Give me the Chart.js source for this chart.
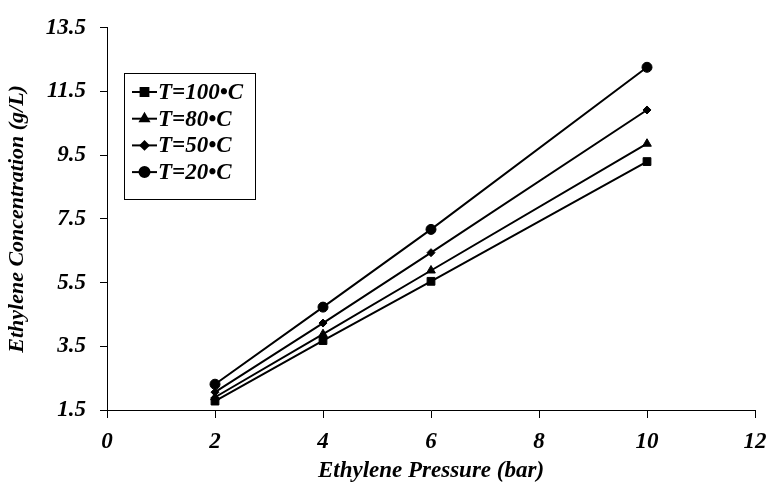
<!DOCTYPE html>
<html>
<head>
<meta charset="utf-8">
<script src="https://cdn.jsdelivr.net/npm/chart.js@4.4.1/dist/chart.umd.min.js"></script>
<style>
  html, body { margin: 0; padding: 0; background: #fff; }
</style>
</head>
<body>
<canvas id="solubilityChart" width="766" height="495"></canvas>
<script>
// Ethylene solubility vs pressure at four temperatures
const pressures = [2, 4, 6, 10];
const seriesLabels = ['T=100•C', 'T=80•C', 'T=50•C', 'T=20•C'];
const conc100 = [1.78, 3.68, 5.54, 9.30];
const conc80 = [1.90, 3.88, 5.88, 9.86];
const conc50 = [2.06, 4.23, 6.44, 10.92];
const conc20 = [2.31, 4.73, 7.17, 12.26];
const xTicks = [0, 2, 4, 6, 8, 10, 12];
const yTicks = [1.5, 3.5, 5.5, 7.5, 9.5, 11.5, 13.5];

const serif = "'Liberation Serif', 'Times New Roman', serif";
const boldItalic = size => ({ family: serif, size: size, weight: 'bold', style: 'italic' });

// marker style per series
const markers = [
    { style: 'rect', radius: 5.5 },
    { style: 'triangle', radius: 5 },
    { style: 'rectRot', radius: 4 },
    { style: 'circle', radius: 5 }
];

function makeSeries(label, values, marker) {
    return {
        label: label,
        data: pressures.map((p, i) => ({ x: p, y: values[i] })),
        showLine: true,
        borderColor: '#000',
        backgroundColor: '#000',
        borderWidth: 2,
        pointStyle: marker.style,
        pointRadius: marker.radius,
        pointBorderWidth: 1,
        pointHoverRadius: marker.radius
    };
}

const datasets = [
    makeSeries(seriesLabels[0], conc100, markers[0]),
    makeSeries(seriesLabels[1], conc80, markers[1]),
    makeSeries(seriesLabels[2], conc50, markers[2]),
    makeSeries(seriesLabels[3], conc20, markers[3])
];

// boxed legend drawn inside the plot area
const boxLegend = {
    id: 'boxLegend',
    afterDraw(chart) {
        const ctx = chart.ctx;
        const left = 124, top = 73, w = 131, h = 126;
        ctx.save();
        ctx.fillStyle = '#fff';
        ctx.fillRect(left, top, w, h);
        ctx.strokeStyle = '#000';
        ctx.lineWidth = 1;
        ctx.strokeRect(left + 0.5, top + 0.5, w, h);
        ctx.font = 'italic bold 23px ' + serif;
        ctx.textBaseline = 'middle';
        ctx.textAlign = 'left';
        chart.data.datasets.forEach((ds, i) => {
            const y = 92 + i * 26.7;
            ctx.strokeStyle = '#000';
            ctx.lineWidth = 2;
            ctx.beginPath();
            ctx.moveTo(132, y);
            ctx.lineTo(157, y);
            ctx.stroke();
            ctx.fillStyle = '#000';
            Chart.helpers.drawPoint(ctx, {
                pointStyle: ds.pointStyle,
                radius: ds.pointRadius,
                rotation: 0,
                borderWidth: 1
            }, 144.5, y);
            ctx.fillStyle = '#000';
            ctx.fillText(ds.label, 158, y + 1);
        });
        ctx.restore();
    }
};

new Chart(document.getElementById('solubilityChart'), {
    type: 'scatter',
    data: { datasets: datasets },
    plugins: [boxLegend],
    options: {
        responsive: false,
        animation: false,
        layout: { padding: { top: 24, right: 11, bottom: 0, left: 0 } },
        plugins: {
            legend: { display: false },
            tooltip: { enabled: false }
        },
        scales: {
            x: {
                type: 'linear',
                min: 0,
                max: 12,
                afterFit: scale => {
                    scale.height = 85;
                    scale.paddingLeft = 0;
                    scale.paddingRight = 0;
                },
                afterBuildTicks: scale => { scale.ticks = xTicks.map(v => ({ value: v })); },
                grid: { drawOnChartArea: false, drawTicks: true, tickLength: 8, color: '#000' },
                border: { display: true, color: '#000', width: 1 },
                ticks: { color: '#000', font: boldItalic(23), padding: 10, maxRotation: 0 },
                title: {
                    display: true,
                    text: 'Ethylene Pressure (bar)',
                    color: '#000',
                    font: boldItalic(23),
                    padding: { top: 4, bottom: 10 }
                }
            },
            y: {
                type: 'linear',
                min: 1.5,
                max: 13.5,
                afterFit: scale => { scale.width = 107; },
                afterBuildTicks: scale => { scale.ticks = yTicks.map(v => ({ value: v })); },
                grid: { drawOnChartArea: false, drawTicks: true, tickLength: 7, color: '#000' },
                border: { display: true, color: '#000', width: 1 },
                ticks: {
                    color: '#000',
                    font: boldItalic(23),
                    padding: 14,
                    callback: v => v.toFixed(1)
                },
                title: {
                    display: true,
                    text: 'Ethylene Concentration (g/L)',
                    color: '#000',
                    font: boldItalic(22),
                    padding: { top: 4, bottom: 0 }
                }
            }
        }
    }
});
</script>
</body>
</html>
